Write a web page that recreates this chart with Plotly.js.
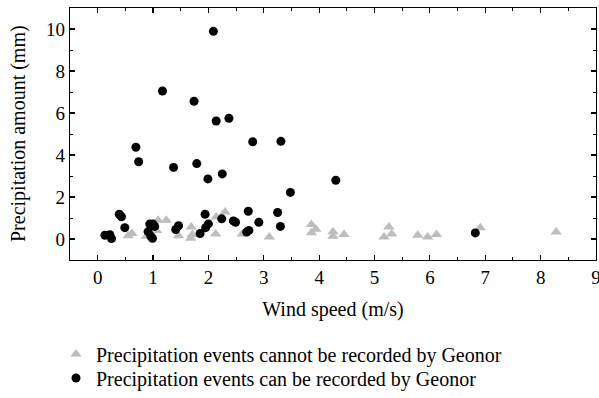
<!DOCTYPE html>
<html>
<head>
<meta charset="utf-8">
<script src="https://cdn.plot.ly/plotly-3.0.1.min.js"></script>
<style>html,body{margin:0;padding:0;background:#fff;font-family:"Liberation Serif",serif;}#chart{width:599px;height:398px;}</style>
</head>
<body>
<div id="chart"></div>
<script>
// Series: precipitation events that cannot be recorded by Geonor (gray triangles)
const cannotWind = [0.55,0.62,0.88,1.06,1.09,1.24,1.46,1.69,1.71,1.68,2.14,2.30,2.13,2.61,3.10,3.86,3.94,3.86,4.25,4.25,4.45,5.26,5.31,5.17,5.78,5.96,6.12,6.91,8.28];
const cannotPrecip = [0.16,0.26,0.13,0.41,0.89,0.89,0.15,0.57,0.22,0.03,1.05,1.29,0.24,0.24,0.10,0.69,0.46,0.30,0.35,0.13,0.21,0.57,0.24,0.10,0.18,0.10,0.21,0.54,0.33];
// Series: precipitation events that can be recorded by Geonor (black circles)
const canWind = [2.09,1.17,1.74,2.14,2.37,2.80,3.31,0.69,0.74,1.37,1.79,1.99,2.25,4.30,3.48,0.39,0.43,0.49,0.13,0.22,0.25,0.94,1.00,1.03,0.91,0.96,0.99,1.41,1.46,1.85,1.94,1.95,2.00,2.24,2.45,2.49,2.72,2.69,2.73,2.91,3.25,3.30,6.82];
const canPrecip = [9.89,7.05,6.56,5.62,5.75,4.63,4.65,4.37,3.68,3.41,3.59,2.86,3.10,2.80,2.22,1.18,1.06,0.54,0.18,0.20,0.02,0.71,0.71,0.60,0.35,0.13,0.03,0.45,0.63,0.26,1.18,0.54,0.72,0.96,0.86,0.80,1.32,0.33,0.41,0.80,1.26,0.60,0.29];
const seriesNames = ["Precipitation events cannot be recorded by Geonor","Precipitation events can be recorded by Geonor"];
const xTicks = [0,1,2,3,4,5,6,7,8,9];
const yTicks = [0,2,4,6,8,10];
const xTitle = "Wind speed (m/s)";
const yTitle = "Precipitation amount (mm)";

const FONT = "'Liberation Serif', 'DejaVu Serif', serif";
const traces = [
  {x: cannotWind, y: cannotPrecip, name: seriesNames[0], type: "scatter", mode: "markers", legend: "legend",
   marker: {symbol: "triangle-up", size: 10, color: "#bdbdbd", line: {width: 0}}},
  {x: canWind, y: canPrecip, name: seriesNames[1], type: "scatter", mode: "markers", legend: "legend2",
   marker: {symbol: "circle", size: 9, color: "#000000", line: {width: 0}}}
];
const axisCommon = {
  showline: true, linecolor: "#000", linewidth: 1.3, mirror: "allticks",
  ticks: "inside", ticklen: 5, tickwidth: 1.2, tickcolor: "#000",
  showgrid: false, zeroline: false, ticklabeloverflow: "allow", automargin: true,
  tickfont: {family: FONT, size: 19, color: "#000"}
};
const legendCommon = {xref: "container", xanchor: "left", yref: "container", yanchor: "middle",
  orientation: "v", font: {family: FONT, size: 20, color: "#000"}, bgcolor: "rgba(0,0,0,0)"};
const layout = {
  width: 599, height: 398,
  margin: {l: 70, r: 3, t: 8, b: 138, autoexpand: false},
  paper_bgcolor: "#fff", plot_bgcolor: "#fff",
  font: {family: FONT, color: "#000"},
  showlegend: true,
  xaxis: Object.assign({}, axisCommon, {
    range: [-0.5, 9], tickvals: xTicks, ticktext: xTicks.map(String),
    minor: {dtick: 0.5, tick0: 0, ticks: "inside", ticklen: 3, tickcolor: "#000", tickwidth: 1},
    title: {text: xTitle, font: {family: FONT, size: 20, color: "#000"}, standoff: 15}
  }),
  yaxis: Object.assign({}, axisCommon, {
    range: [-1, 11], tickvals: yTicks, ticktext: yTicks.map(String),
    minor: {dtick: 1, tick0: 0, ticks: "inside", ticklen: 3, tickcolor: "#000", tickwidth: 1}
  }),
  annotations: [{
    text: yTitle, textangle: -90, showarrow: false,
    xref: "paper", yref: "paper", x: (18 - 70) / 526, y: 0.5,
    xanchor: "center", yanchor: "middle",
    font: {family: FONT, size: 20, color: "#000"}
  }],
  legend: Object.assign({}, legendCommon, {x: 56/599, y: 1 - 354/398}),
  legend2: Object.assign({}, legendCommon, {x: 56/599, y: 1 - 378/398})
};
Plotly.newPlot("chart", traces, layout, {displayModeBar: false, staticPlot: true});
</script>
</body>
</html>
